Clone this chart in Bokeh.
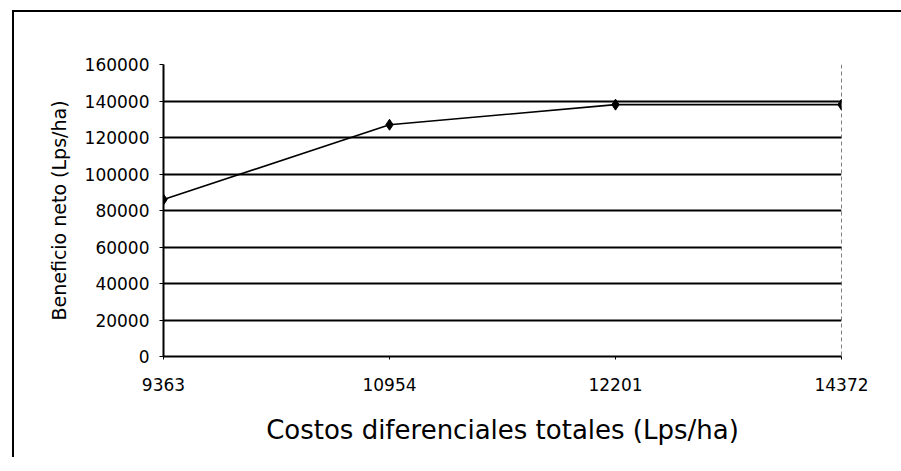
from bokeh.plotting import figure
from bokeh.models import FixedTicker, Range1d, Span
from bokeh.embed import file_html
from bokeh.resources import INLINE

costs = ["9363", "10954", "12201", "14372"]
benefit = [86000, 127000, 138000, 138000]
y_ticks = [0, 20000, 40000, 60000, 80000, 100000, 120000, 140000, 160000]

xs = list(range(len(costs)))

p = figure(width=893, height=447, output_backend="svg", toolbar_location=None,
           x_range=Range1d(0, len(costs) - 1), y_range=Range1d(0, 160000),
           min_border_left=149, min_border_right=66, min_border_top=52, min_border_bottom=103)
p.margin = (10, 0, 0, 12)
p.styles = {"border-left": "2px solid black", "border-top": "2px solid black"}
p.outline_line_color = None
p.border_fill_color = "white"
p.background_fill_color = "white"

p.add_layout(Span(location=len(costs) - 1, dimension="height", line_color="black",
                  line_width=1, line_dash="4 3"))

p.line(xs, benefit, line_color="black", line_width=1.6)
p.scatter(xs, benefit, marker="diamond", size=11, fill_color="black", line_color="black")

p.xaxis.ticker = FixedTicker(ticks=xs)
p.xaxis.major_label_overrides = {i: c for i, c in zip(xs, costs)}
p.yaxis.ticker = FixedTicker(ticks=y_ticks)
p.yaxis.formatter.use_scientific = False

p.xgrid.grid_line_color = None
p.ygrid.grid_line_color = "black"
p.ygrid.grid_line_width = 2

for ax in (p.xaxis, p.yaxis):
    ax.axis_line_color = "black"
    ax.axis_line_width = 2
    ax.major_tick_line_color = "black"
    ax.minor_tick_line_color = None
    ax.major_label_text_font = "DejaVu Sans"
    ax.major_label_text_color = "black"
    ax.axis_label_text_font = "DejaVu Sans"
    ax.axis_label_text_font_style = "normal"
    ax.axis_label_text_color = "black"

p.xaxis.major_tick_in = 0
p.xaxis.major_tick_out = 3
p.xaxis.major_label_text_font_size = "17px"
p.xaxis.major_label_standoff = 18
p.xaxis.axis_label = "Costos diferenciales totales (Lps/ha)"
p.xaxis.axis_label_text_font_size = "26px"
p.xaxis.axis_label_standoff = 21

p.yaxis.major_tick_in = 0
p.yaxis.major_tick_out = 4
p.yaxis.major_label_text_font_size = "17px"
p.yaxis.major_label_standoff = 10
p.yaxis.axis_label = "Beneficio neto (Lps/ha)"
p.yaxis.axis_label_text_font_size = "19px"
p.yaxis.axis_label_standoff = 12

open("out.html", "w").write(file_html(p, INLINE))
